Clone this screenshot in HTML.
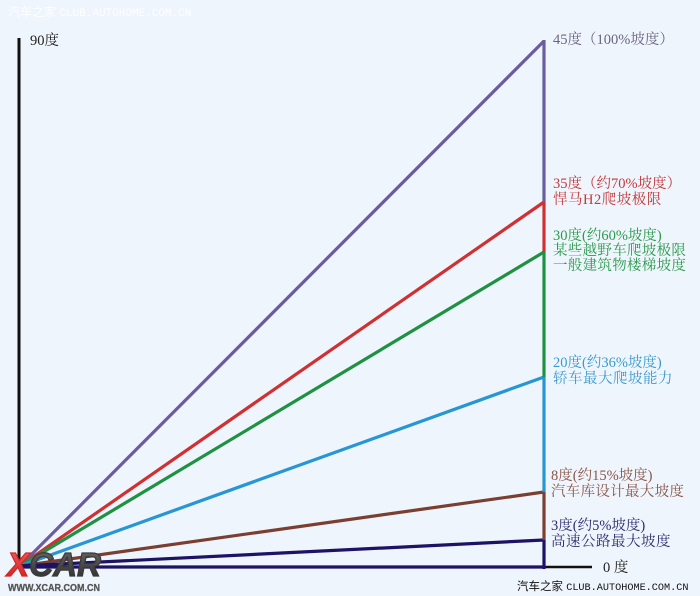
<!DOCTYPE html>
<html>
<head>
<meta charset="utf-8">
<style>
html,body{margin:0;padding:0;background:#eff5fc;}
svg{display:block;}
.t{font-family:"Liberation Serif","Noto Serif CJK SC","Noto Sans CJK SC",serif;font-size:14.5px;}
</style>
</head>
<body>
<svg width="700" height="596" viewBox="0 0 700 596" xmlns="http://www.w3.org/2000/svg">
<rect x="0" y="0" width="700" height="596" fill="#eff5fc"/>
<!-- top watermark -->
<text x="8" y="16" font-family="'Liberation Sans','Noto Sans CJK SC',sans-serif" font-size="12" fill="#ffffff" opacity="0.9">汽车之家 <tspan font-family="'Liberation Mono',monospace" font-size="11">CLUB.AUTOHOME.COM.CN</tspan></text>

<!-- left axis -->
<line x1="19" y1="38" x2="19" y2="568" stroke="#111" stroke-width="3"/>
<!-- bottom black line -->
<line x1="19" y1="567" x2="592" y2="567" stroke="#111" stroke-width="2.5"/>

<!-- slope lines -->
<g stroke-width="3.2" fill="none" stroke-linecap="butt">
<line x1="20" y1="566" x2="544" y2="41" stroke="#6a5c9e"/>
<line x1="20" y1="566" x2="544" y2="202" stroke="#cf3133"/>
<line x1="20" y1="566" x2="544" y2="252" stroke="#1f9142"/>
<line x1="20" y1="566" x2="544" y2="377" stroke="#2796d4"/>
<line x1="20" y1="566" x2="544" y2="492" stroke="#7a3f30"/>
<line x1="20" y1="566" x2="544" y2="540" stroke="#1d1265"/>
<line x1="20" y1="567" x2="544" y2="567" stroke="#1d1265"/>
<!-- vertical segments -->
<line x1="544" y1="40" x2="544" y2="202" stroke="#6a5c9e"/>
<line x1="544" y1="202" x2="544" y2="252" stroke="#cf3133"/>
<line x1="544" y1="252" x2="544" y2="377" stroke="#1f9142"/>
<line x1="544" y1="377" x2="544" y2="492" stroke="#2796d4"/>
<line x1="544" y1="492" x2="544" y2="540" stroke="#7a3f30"/>
<line x1="544" y1="540" x2="544" y2="569" stroke="#1d1265"/>
</g>

<!-- labels -->
<text class="t" x="30" y="45" fill="#222" font-size="13.5">90度</text>
<text class="t" x="553" y="44" fill="#6b6580">45度（100%坡度）</text>

<text class="t" x="553" y="188" fill="#c23a3c">35度（约70%坡度）</text>
<text class="t" x="553" y="204" fill="#c23a3c" letter-spacing="0.5">悍马H2爬坡极限</text>

<text class="t" x="553" y="240" fill="#2a9a4c">30度(约60%坡度)</text>
<text class="t" x="553" y="255" fill="#2a9a4c" letter-spacing="0.3">某些越野车爬坡极限</text>
<text class="t" x="553" y="270" fill="#2a9a4c" letter-spacing="0.3">一般建筑物楼梯坡度</text>

<text class="t" x="553" y="367" fill="#3a9bd0">20度(约36%坡度)</text>
<text class="t" x="553" y="383" fill="#3a9bd0" letter-spacing="0.5">轿车最大爬坡能力</text>

<text class="t" x="551" y="480" fill="#8a5648">8度(约15%坡度)</text>
<text class="t" x="551" y="496" fill="#8a5648" letter-spacing="0.3">汽车库设计最大坡度</text>

<text class="t" x="551" y="530" fill="#2e2d6e">3度(约5%坡度)</text>
<text class="t" x="551" y="546" fill="#2e2d6e" letter-spacing="0.5">高速公路最大坡度</text>

<text class="t" x="603" y="572" fill="#222" font-size="13.5">0 度</text>

<!-- bottom right watermark -->
<text x="517" y="590" font-family="'Liberation Sans','Noto Sans CJK SC',sans-serif" font-size="11.5" fill="#111">汽车之家 <tspan font-family="'Liberation Mono',monospace" font-size="10.2">CLUB.AUTOHOME.COM.CN</tspan></text>

<!-- XCAR logo -->
<defs>
<linearGradient id="xr" x1="0" y1="0" x2="0" y2="1">
<stop offset="0" stop-color="#f26464"/>
<stop offset="1" stop-color="#c81818"/>
</linearGradient>
<linearGradient id="cr" x1="0" y1="0" x2="0" y2="1">
<stop offset="0" stop-color="#6a6a6a"/>
<stop offset="1" stop-color="#2a2a2a"/>
</linearGradient>
</defs>
<text x="7" y="576" font-family="'Liberation Sans',sans-serif" font-weight="bold" font-style="italic" font-size="33" textLength="94" lengthAdjust="spacingAndGlyphs" stroke-width="1.2"><tspan fill="url(#xr)" stroke="#d02828">X</tspan><tspan fill="url(#cr)" stroke="#3a3a3a">CAR</tspan></text>
<text x="8" y="591" font-family="'Liberation Sans',sans-serif" font-weight="bold" font-size="10.5" fill="#555" stroke="#555" stroke-width="0.3" textLength="92" lengthAdjust="spacingAndGlyphs">WWW.XCAR.COM.CN</text>
</svg>
</body>
</html>
